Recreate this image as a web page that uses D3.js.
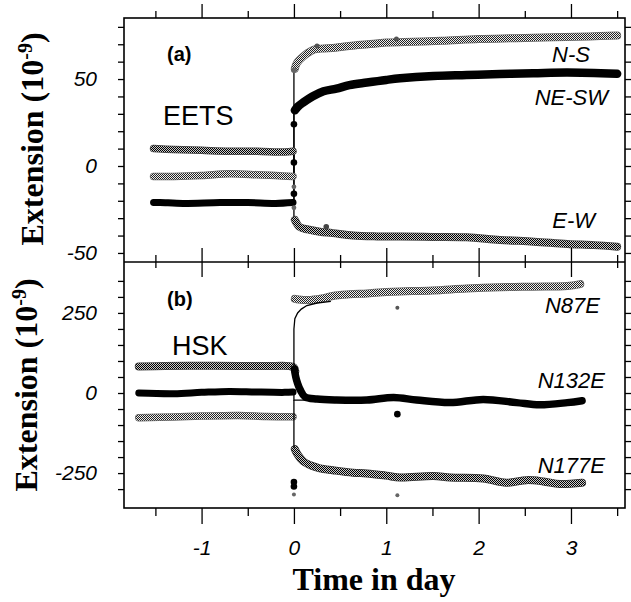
<!DOCTYPE html>
<html>
<head>
<meta charset="utf-8">
<script src="https://cdnjs.cloudflare.com/ajax/libs/d3/7.8.5/d3.min.js"></script>
<style>
body { margin: 0; background: #fff; }
.tick text { font-family: "Liberation Sans", Arial, sans-serif; font-style: italic; font-size: 21px; fill: #000; }
.tick line { stroke: #000; stroke-width: 1.3; }
.domain { display: none; }
.ylab, .xlab { font-family: "Liberation Serif", "Times New Roman", serif; font-weight: bold; font-size: 32px; }
.site { font-family: "Liberation Sans", Arial, sans-serif; font-size: 27px; }
.panel { font-family: "Liberation Sans", Arial, sans-serif; font-weight: bold; font-size: 20px; }
.comp { font-family: "Liberation Sans", Arial, sans-serif; font-style: italic; font-size: 22px; }
</style>
</head>
<body>
<svg id="chart" width="631" height="602"></svg>
<script>
// TICKS
var xMajor = [-1, 0, 1, 2, 3];
var xMinor = [-1.5, -0.5, 0.5, 1.5, 2.5, 3.5];
var yATicks = [-50, -40, -30, -20, -10, 0, 10, 20, 30, 40, 50, 60, 70, 80];
var yALabels = [-50, 0, 50];
var yBTicks = [-300, -250, -200, -150, -100, -50, 0, 50, 100, 150, 200, 250, 300, 350];
var yBLabels = [-250, 0, 250];

// (a) EETS, [time in day, extension 1e-9]
var nsPre = [[-1.52, -6], [-1.3, -6], [-1.0, -5.5], [-0.7, -4.5], [-0.4, -5], [-0.2, -5.5], [-0.01, -6]];
var nsJump = [[0, -6], [0, 55]];
var nsPost = [[0.01, 56], [0.03, 59], [0.06, 61], [0.1, 63], [0.15, 65], [0.22, 67], [0.3, 67.5], [0.45, 68],
  [0.6, 69], [0.8, 70], [1.0, 71], [1.3, 71.5], [1.6, 72], [2.0, 73], [2.4, 73.5], [2.8, 74], [3.2, 74.5], [3.5, 75]];
var nsOut = [[0.25, 69], [1.11, 73]];

var neswPre = [[-1.52, -21], [-1.45, -21], [-1.2, -21.5], [-0.8, -21], [-0.5, -21], [-0.2, -21.5], [-0.01, -21]];
var neswJump = [[0, -21], [0, -16], [0, 2], [0, 24], [0, 32]];
var neswPost = [[0.01, 32], [0.04, 34], [0.1, 36.5], [0.2, 40], [0.32, 43], [0.46, 44.5], [0.6, 46.5], [0.79, 48],
  [1.0, 49.5], [1.15, 50.4], [1.51, 51.7], [1.87, 52.3], [2.23, 52.9], [2.59, 53.3], [2.96, 53.7], [3.5, 53]];

var ewPre = [[-1.52, 10], [-1.3, 9.5], [-1.0, 9], [-0.7, 8.5], [-0.4, 8.5], [-0.1, 8], [-0.01, 8.5]];
var ewJump = [[0, 8.5], [0, -12], [0, -24], [0, -31]];
var ewPost = [[0.01, -31], [0.06, -35], [0.15, -36.5], [0.28, -37.8], [0.42, -38.6], [0.64, -40], [0.9, -40.5],
  [1.15, -40.6], [1.5, -40.8], [1.87, -41], [2.23, -42.5], [2.6, -43.5], [2.96, -44.8], [3.25, -45.5], [3.5, -46.4]];
var ewOut = [[0.35, -35]];

// (b) HSK
var n87ePre = [[-1.68, 83], [-1.4, 84], [-1.0, 85], [-0.6, 84], [-0.3, 84], [-0.05, 84], [0.0, 80], [0.015, 68]];
var n87eFit = [[0, 84], [0, 200], [0.01, 232], [0.04, 250], [0.08, 262], [0.14, 273], [0.25, 281], [0.4, 286]];
var n87ePost = [[0.01, 294], [0.05, 292], [0.15, 290], [0.3, 295], [0.42, 303], [0.6, 308], [0.79, 311], [1.0, 315],
  [1.15, 317], [1.5, 320], [1.87, 326], [2.23, 330], [2.59, 332], [2.96, 334], [3.1, 340]];
var n87eOut = [[1.12, 266]];

var n132ePre = [[-1.68, 0], [-1.3, -2], [-1.0, 2], [-0.7, 5], [-0.4, 3], [-0.1, 2], [-0.01, 3]];
var n132eFit = [[0, 3], [0, -22], [0.5, -22]];
var n132ePost = [[0.005, 75], [0.02, 50], [0.04, 30], [0.07, 9], [0.12, -12], [0.25, -19], [0.46, -22], [0.79, -22],
  [1.08, -14], [1.33, -22], [1.69, -30], [2.05, -20], [2.41, -30], [2.66, -37], [2.96, -30], [3.12, -24]];
var n132eOut = [[0, -278], [0, -292], [1.12, -66]];

var n177ePre = [[-1.68, -77], [-1.3, -75], [-1.0, -72], [-0.6, -70], [-0.3, -73], [-0.01, -74]];
var n177eFit = [[0, -22], [0, -172]];
var n177ePost = [[0.01, -175], [0.04, -192], [0.1, -213], [0.2, -228], [0.28, -235], [0.42, -241], [0.64, -249],
  [0.79, -251], [1.0, -258], [1.15, -264], [1.51, -259], [1.69, -264], [2.05, -267], [2.3, -280], [2.52, -272],
  [2.7, -276], [2.88, -284], [3.12, -280]];
var n177eOut = [[0, -317], [1.12, -319]];

var svg = d3.select('#chart');
var left = 124, right = 625, top0 = 18, mid = 262, bottom = 508;

var x = d3.scaleLinear().domain([-1.84, 3.585]).range([left, right]);
var yA = d3.scaleLinear().domain([-55.2, 85.1]).range([mid, top0]);
var yB = d3.scaleLinear().domain([-359, 409]).range([bottom, mid]);

// halftone fills for the grey series
var defs = svg.append('defs');
function halftone(id, dark, light) {
    var p = defs.append('pattern').attr('id', id).attr('patternUnits', 'userSpaceOnUse')
        .attr('width', 2).attr('height', 2);
    p.append('rect').attr('width', 2).attr('height', 2).attr('fill', light);
    p.append('rect').attr('width', 1).attr('height', 1).attr('fill', dark);
    p.append('rect').attr('x', 1).attr('y', 1).attr('width', 1).attr('height', 1).attr('fill', dark);
}
halftone('htLight', '#222', '#eee');
halftone('htDark', '#000', '#ccc');

var plot = svg.append('g');

function band(y, data, fill, w, edge) {
    var line = d3.line().x(function(d) { return x(d[0]); }).y(function(d) { return y(d[1]); })
        .curve(d3.curveCatmullRom);
    if ( edge ) {
        plot.append('path').datum(data).attr('d', line).attr('fill', 'none')
            .attr('stroke', edge).attr('stroke-width', w + 1.5).attr('stroke-linecap', 'round').attr('stroke-linejoin', 'round');
    }
    plot.append('path').datum(data).attr('d', line).attr('fill', 'none')
        .attr('stroke', fill).attr('stroke-width', w).attr('stroke-linecap', 'round').attr('stroke-linejoin', 'round');
}
function thin(y, data) {
    var line = d3.line().x(function(d) { return x(d[0]); }).y(function(d) { return y(d[1]); });
    plot.append('path').datum(data).attr('d', line).attr('fill', 'none')
        .attr('stroke', '#000').attr('stroke-width', 1.3);
}
function dots(y, data, fill, r) {
    plot.selectAll(null).data(data).enter().append('circle')
        .attr('cx', function(d) { return x(d[0]); })
        .attr('cy', function(d) { return y(d[1]); })
        .attr('r', r).attr('fill', fill);
}

// panel (a)
thin(yA, nsJump);
thin(yA, neswJump);
thin(yA, ewJump);
band(yA, nsPre, 'url(#htLight)', 6, '#666');
band(yA, nsPost, 'url(#htLight)', 6.5, '#666');
band(yA, ewPre, 'url(#htDark)', 6, '#444');
band(yA, ewPost, 'url(#htDark)', 6.5, '#444');
band(yA, neswPre, '#000', 7);
band(yA, neswPost, '#000', 8.5);
dots(yA, nsOut, '#555', 2.5);
dots(yA, ewOut, '#444', 2.8);
dots(yA, neswJump.slice(1, 4), '#000', 3.3);
dots(yA, ewJump.slice(1, 3), '#666', 2.4);
dots(yA, nsJump.slice(1), '#666', 2.8);

// panel (b)
band(yB, n87ePre, 'url(#htDark)', 6.5, '#444');
band(yB, n132ePre, '#000', 7);
band(yB, n177ePre, 'url(#htLight)', 6, '#666');
band(yB, n132ePost, '#000', 7.5);
band(yB, n87ePost, 'url(#htLight)', 6.5, '#666');
band(yB, n177ePost, 'url(#htDark)', 6.5, '#333');
thin(yB, n87eFit);
thin(yB, n132eFit);
thin(yB, n177eFit);
dots(yB, n87eOut, '#555', 2);
dots(yB, n132eOut, '#000', 3.3);
dots(yB, n177eOut, '#666', 2);

// frame
svg.append('rect').attr('x', left).attr('y', top0).attr('width', right - left).attr('height', bottom - top0)
    .attr('fill', 'none').attr('stroke', '#000').attr('stroke-width', 1.6);
svg.append('line').attr('x1', left).attr('x2', right).attr('y1', mid).attr('y2', mid)
    .attr('stroke', '#000').attr('stroke-width', 1.6);

// x ticks: top edge, divider (both ways), bottom edge
function xTicks(axisFn, yPos, vals, size) {
    svg.append('g').attr('transform', 'translate(0,' + yPos + ')')
        .call(axisFn(x).tickValues(vals).tickSize(size).tickFormat(''));
}
xTicks(d3.axisTop, top0, xMajor, 14);
xTicks(d3.axisTop, top0, xMinor, 7);
xTicks(d3.axisTop, mid, xMajor, 14);
xTicks(d3.axisTop, mid, xMinor, 7);
xTicks(d3.axisBottom, mid, xMajor, 15);
xTicks(d3.axisBottom, mid, xMinor, 6);
xTicks(d3.axisBottom, bottom, xMajor, 16);
xTicks(d3.axisBottom, bottom, xMinor, 8);
svg.append('g').attr('transform', 'translate(0,' + bottom + ')')
    .call(d3.axisBottom(x).tickValues(xMajor).tickSize(0).tickPadding(32).tickFormat(function(d) { return String(d); }));

// y ticks
function yTicks(y, vals, labels) {
    svg.append('g').attr('transform', 'translate(' + left + ',0)')
        .call(d3.axisLeft(y).tickValues(vals).tickSize(6).tickFormat(''));
    svg.append('g').attr('transform', 'translate(' + right + ',0)')
        .call(d3.axisRight(y).tickValues(vals).tickSize(6).tickFormat(''));
    svg.append('g').attr('transform', 'translate(' + left + ',0)')
        .call(d3.axisLeft(y).tickValues(labels).tickSize(0).tickPadding(27).tickFormat(function(d) { return String(d); }));
}
yTicks(yA, yATicks, yALabels);
yTicks(yB, yBTicks, yBLabels);

// axis titles
function ylab(xb, yc) {
    var t = svg.append('text').attr('class', 'ylab').attr('text-anchor', 'middle')
        .attr('transform', 'translate(' + xb + ',' + yc + ') rotate(-90)');
    t.append('tspan').text('Extension (10');
    t.append('tspan').attr('dy', -11).attr('font-size', 20).text('-9');
    t.append('tspan').attr('dy', 11).text(')');
}
ylab(43, 139);
ylab(37, 385);
svg.append('text').attr('class', 'xlab').attr('x', 374).attr('y', 590).attr('text-anchor', 'middle').text('Time in day');

// annotations
svg.append('text').attr('class', 'panel').attr('x', 167).attr('y', 61).text('(a)');
svg.append('text').attr('class', 'panel').attr('x', 167).attr('y', 306).text('(b)');
svg.append('text').attr('class', 'site').attr('x', 163).attr('y', 125).text('EETS');
svg.append('text').attr('class', 'site').attr('x', 172).attr('y', 355).text('HSK');
var comps = [['N-S', 590, 62], ['NE-SW', 608, 105], ['E-W', 595, 228], ['N87E', 600, 313], ['N132E', 605, 388], ['N177E', 605, 473]];
svg.selectAll(null).data(comps).enter().append('text').attr('class', 'comp')
    .attr('text-anchor', 'end')
    .attr('x', function(d) { return d[1]; })
    .attr('y', function(d) { return d[2]; })
    .text(function(d) { return d[0]; });
</script>
</body>
</html>
